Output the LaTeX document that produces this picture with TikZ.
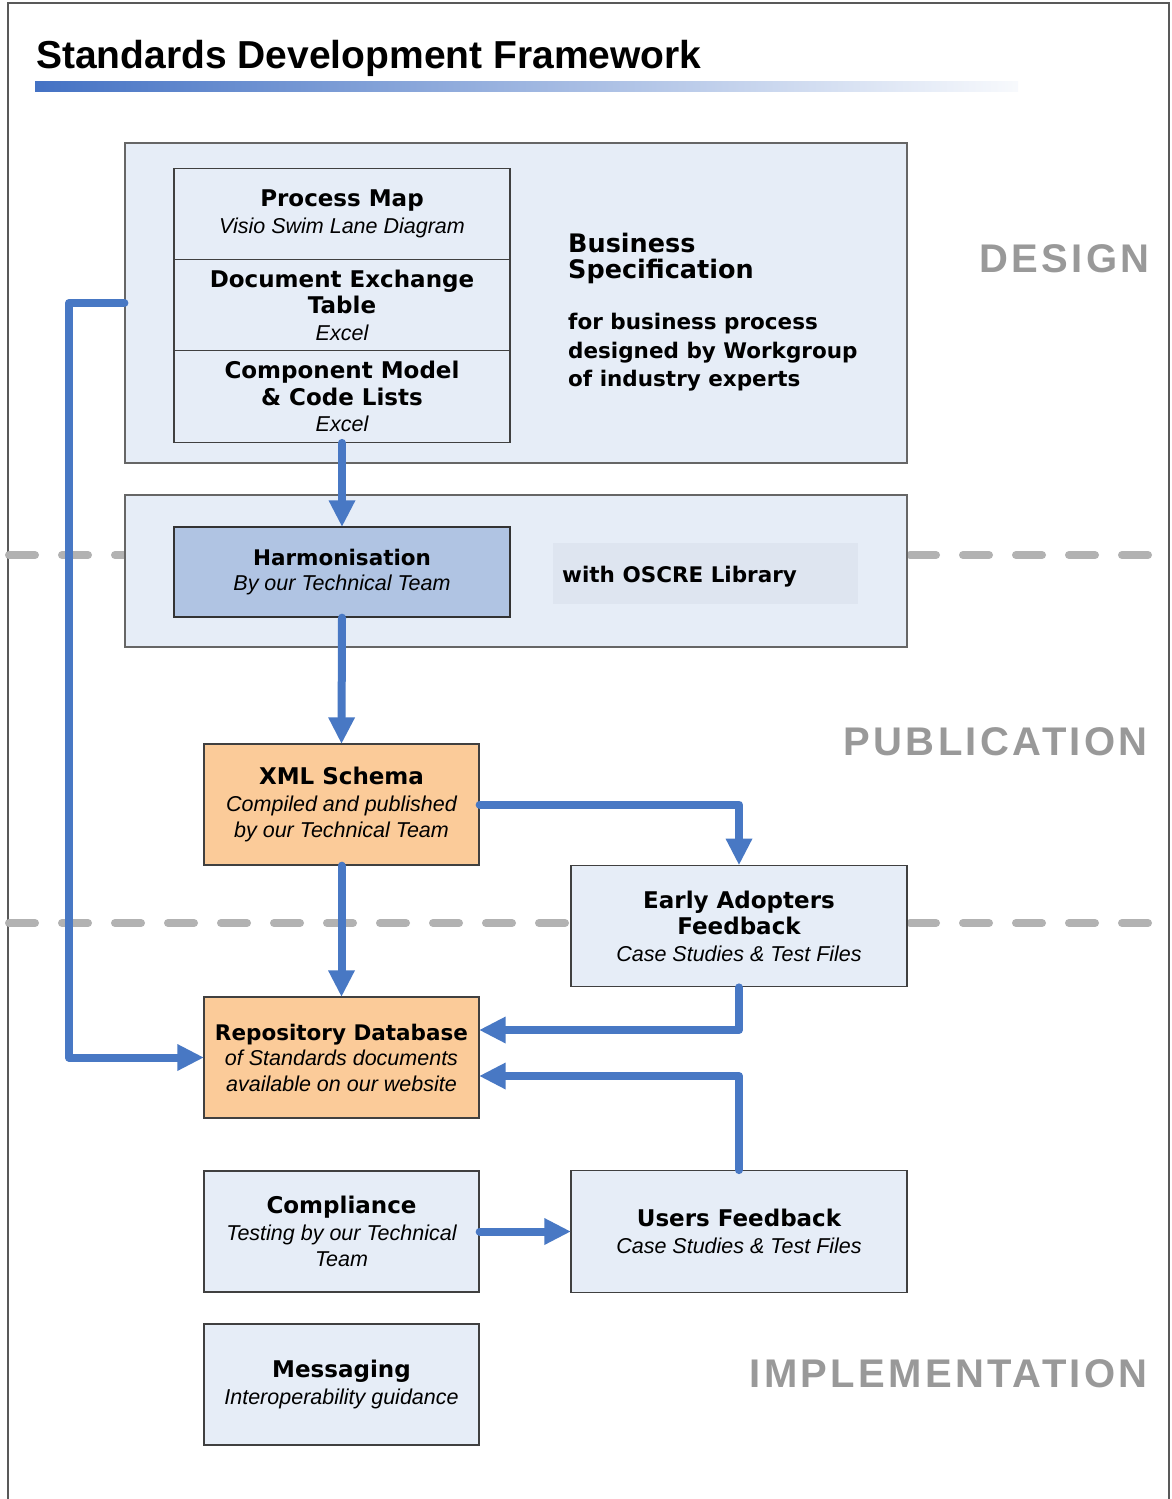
\documentclass[tikz,border=0pt]{standalone}
\usepackage{fontspec}
\setmainfont{Liberation Sans}
\newfontfamily\vfont{DejaVu Sans}
\newfontfamily\lblfont{Liberation Sans}[LetterSpace=8.5]
\usetikzlibrary{arrows.meta}
\definecolor{boxfill}{RGB}{230,237,247}
\definecolor{harmfill}{RGB}{176,196,227}
\definecolor{orangefill}{RGB}{251,203,153}
\definecolor{oscrefill}{RGB}{222,229,240}
\definecolor{flowblue}{RGB}{72,120,196}
\definecolor{dashgray}{RGB}{178,178,178}
\definecolor{lblgray}{RGB}{153,153,153}
\definecolor{edgegray}{RGB}{64,64,64}
\definecolor{titleblue}{RGB}{68,114,196}
\newcommand\boxbf{\vfont\bfseries\fontsize{23}{27}\selectfont}
\newcommand\boxbfs{\vfont\bfseries\fontsize{21.5}{26}\selectfont}
\newcommand\boxit{\normalfont\itshape\fontsize{21.5}{26.5}\selectfont}
\begin{document}
\begin{tikzpicture}[x=1pt,y=-1pt,
  box/.style={draw=edgegray, line width=1.3pt, fill=boxfill, inner sep=0pt, align=center,
    font=\fontsize{21.5}{26.5}\selectfont},
  cell/.style={box, minimum width=336pt, minimum height=91.5pt},
  smallbox/.style={box, minimum width=275pt, minimum height=121pt},
  widebox/.style={box, minimum width=336pt, minimum height=121.5pt},
  container/.style={box, line width=1.2pt, draw=edgegray!80, minimum width=782pt},
  flow/.style={draw=flowblue, line width=8pt, line cap=round, line join=round,
    -{Triangle[width=27pt,length=26pt,line width=0pt]}},
  dashline/.style={draw=dashgray, line width=8pt, line cap=round, dash pattern=on 26pt off 27pt},
  lbl/.style={anchor=base east, inner sep=0pt, text=lblgray, font=\lblfont\bfseries\fontsize{40}{44}\selectfont},
  frameline/.style={draw=black!65, line width=1.5pt}
]
\useasboundingbox (0,0) rectangle (1172,1499);
\fill[white] (0,0) rectangle (1172,1499);
% frame
\draw[frameline] (8,1499) -- (8,3) -- (1169,3) -- (1169,1499);
% title
\node[anchor=base west, inner sep=0pt, font=\bfseries\fontsize{39}{40}\selectfont] (title) at (36,68) {Standards Development Framework};
\shade[left color=titleblue, right color=titleblue!4] (35,81) rectangle (1018,91);
% phase separators
\draw[dashline] (9,555) -- (1172,555);
\draw[dashline] (9,923) -- (1150,923);
% phase labels
\node[lbl] (design) at (1150,272) {DESIGN};
\node[lbl] (publication) at (1148,755) {PUBLICATION};
\node[lbl] (implementation) at (1148,1387) {IMPLEMENTATION};
% design container
\node[container, minimum height=320pt] (designbox) at (516,303) {};
\node[cell] (pm) at (342,214) {\boxbf Process Map\\ \boxit Visio Swim Lane Diagram};
\node[cell] (det) at (342,305) {\boxbf Document Exchange\\ \boxbf Table\\ \boxit Excel};
\node[cell] (cm) at (342,396.5) {\boxbf Component Model\\ \boxbf \& Code Lists\\ \boxit Excel};
\node[anchor=north west, inner sep=0pt, align=left, font=\vfont\bfseries\fontsize{25.5}{26}\selectfont] (bspec) at (568,232.5) {Business\\Specification};
\node[anchor=north west, inner sep=0pt, align=left, font=\vfont\bfseries\fontsize{21.5}{28.5}\selectfont] (bspecbody) at (568,313) {for business process\\designed by Workgroup\\of industry experts};
% harmonisation container
\node[container, minimum height=152pt] (harmbox) at (516,571) {};
\node[box, fill=harmfill, draw=black!80, minimum width=336pt, minimum height=90pt, font=\fontsize{21.5}{25.5}\selectfont] (harm) at (342,572) {\boxbfs Harmonisation\\ \boxit By our Technical Team};
\node[fill=oscrefill, minimum width=305pt, minimum height=61pt, inner sep=0pt] (oscre) at (705.5,573.5) {};
\node[anchor=base west, inner sep=0pt, font=\boxbfs] (oscretext) at (562,582) {with OSCRE Library};
% publication
\node[smallbox, fill=orangefill] (xml) at (341.5,804.5) {\boxbf XML Schema\\ \boxit Compiled and published\\ \boxit by our Technical Team};
\node[widebox] (early) at (739,926) {\boxbf Early Adopters\\ \boxbf Feedback\\ \boxit Case Studies \& Test Files};
% implementation
\node[smallbox, fill=orangefill, font=\fontsize{21.5}{25.5}\selectfont] (repo) at (341.5,1057.5) {\boxbfs Repository Database\\ \boxit of Standards documents\\ \boxit available on our website};
\node[smallbox] (comp) at (341.5,1231.5) {\boxbf Compliance\\ \boxit Testing by our Technical\\ \boxit Team};
\node[widebox] (users) at (739,1231.5) {\boxbf Users Feedback\\ \boxit Case Studies \& Test Files};
\node[smallbox] (msg) at (341.5,1384.5) {\boxbf Messaging\\ \boxit Interoperability guidance};
% connectors
\coordinate (leftrail) at (69,303);
\draw[flow] (cm.south) -- (harm.north);
\draw[flow] (harm.south) -- (xml.north);
\draw[flow] (xml.east) -| (early.north);
\draw[flow] (xml.south) -- (repo.north);
\draw[flow] (early.south) |- ([yshift=27.5pt]repo.east);
\draw[flow] (users.north) |- ([yshift=-18.5pt]repo.east);
\draw[flow] (comp.east) -- (users.west);
\draw[flow] (designbox.west) -- (leftrail) |- (repo.west);
\end{tikzpicture}
\end{document}
